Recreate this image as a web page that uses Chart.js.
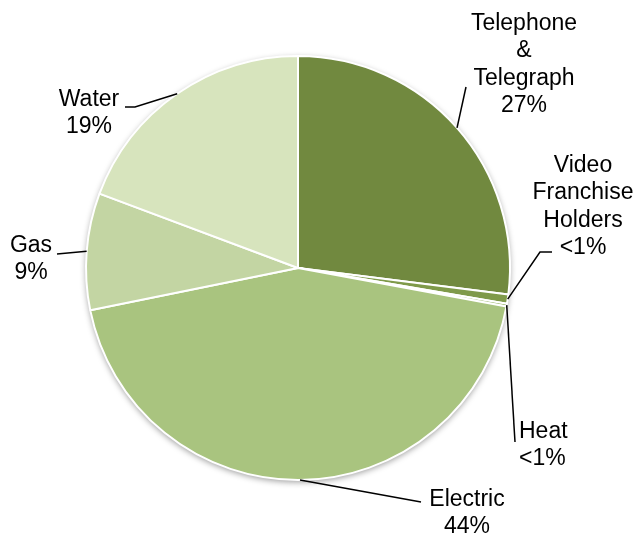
<!DOCTYPE html>
<html>
<head>
<meta charset="utf-8">
<script src="https://cdn.jsdelivr.net/npm/chart.js@4"></script>
<style>
  html, body { margin: 0; padding: 0; background: #fff; }
  #wrap { width: 636px; height: 537px; }
</style>
</head>
<body>
<div id="wrap"><canvas id="pieChart" width="636" height="537"></canvas></div>
<script>
// ===================== Data =====================
const categories = ['Telephone & Telegraph', 'Video Franchise Holders', 'Heat', 'Electric', 'Gas', 'Water'];
const shares = [27.0, 0.7, 0.2, 43.9, 8.9, 19.3];
const shareLabels = ['27%', '<1%', '<1%', '44%', '9%', '19%'];
const labelLines = [
  ['Telephone', '&', 'Telegraph'],
  ['Video', 'Franchise', 'Holders'],
  ['Heat'],
  ['Electric'],
  ['Gas'],
  ['Water']
];
const colors = ['#71893f', '#7f9a4a', '#8fae5c', '#a9c47f', '#c3d5a3', '#d7e4bd'];

// label placement: first baseline, alignment, leader line points (label side first)
const labelLayout = [
  { x: 524, y: 30, align: 'center', leader: [[466, 87]], frac: 0.5 },
  { x: 583, y: 172, align: 'center', leader: [[552, 252], [540, 252]], frac: 0.5 },
  { x: 519, y: 438, align: 'left', leader: [[515, 442]], frac: 0.5 },
  { x: 467, y: 506, align: 'center', leader: [[421, 502]], frac: 0.5 },
  { x: 31, y: 252, align: 'center', leader: [[57, 254]], frac: 0.5 },
  { x: 89, y: 106, align: 'center', leader: [[125, 107], [135, 107]], frac: 0.5 }
];

// ===================== Label plugin =====================
const pieLabels = {
  id: 'pieLabels',
  beforeDatasetsDraw(chart) {
    const arc = chart.getDatasetMeta(0).data[0];
    const ctx = chart.ctx;
    ctx.save();
    ctx.shadowColor = 'rgba(0,0,0,0.4)';
    ctx.shadowBlur = 6;
    ctx.shadowOffsetY = 2;
    ctx.fillStyle = '#fff';
    ctx.beginPath();
    ctx.arc(arc.x, arc.y, arc.outerRadius, 0, Math.PI * 2);
    ctx.fill();
    ctx.restore();
  },
  afterDatasetsDraw(chart) {
    const ctx = chart.ctx;
    const arcs = chart.getDatasetMeta(0).data;
    ctx.save();
    ctx.font = '23px "Liberation Sans", Arial, sans-serif';
    ctx.fillStyle = '#000';
    ctx.textBaseline = 'alphabetic';
    arcs.forEach((a, i) => {
      const lay = labelLayout[i];
      const ang = a.startAngle + (a.endAngle - a.startAngle) * lay.frac;
      const px = a.x + Math.cos(ang) * a.outerRadius;
      const py = a.y + Math.sin(ang) * a.outerRadius;
      ctx.strokeStyle = '#000';
      ctx.lineWidth = 1.5;
      ctx.beginPath();
      ctx.moveTo(px, py);
      for (let k = lay.leader.length - 1; k >= 0; k--) ctx.lineTo(lay.leader[k][0], lay.leader[k][1]);
      ctx.stroke();
      const lines = labelLines[i].concat([shareLabels[i]]);
      ctx.textAlign = lay.align;
      lines.forEach((t, j) => ctx.fillText(t, lay.x, lay.y + j * 27.3));
    });
    ctx.restore();
  }
};

// ===================== Chart =====================
const ctx = document.getElementById('pieChart').getContext('2d');
new Chart(ctx, {
  type: 'pie',
  data: {
    labels: categories,
    datasets: [{
      data: shares,
      backgroundColor: colors,
      borderColor: '#fff',
      borderWidth: 2
    }]
  },
  options: {
    responsive: false,
    animation: false,
    layout: { padding: { left: 85, right: 125, top: 55, bottom: 56 } },
    plugins: {
      legend: { display: false },
      tooltip: { enabled: false }
    }
  },
  plugins: [pieLabels]
});
</script>
</body>
</html>
